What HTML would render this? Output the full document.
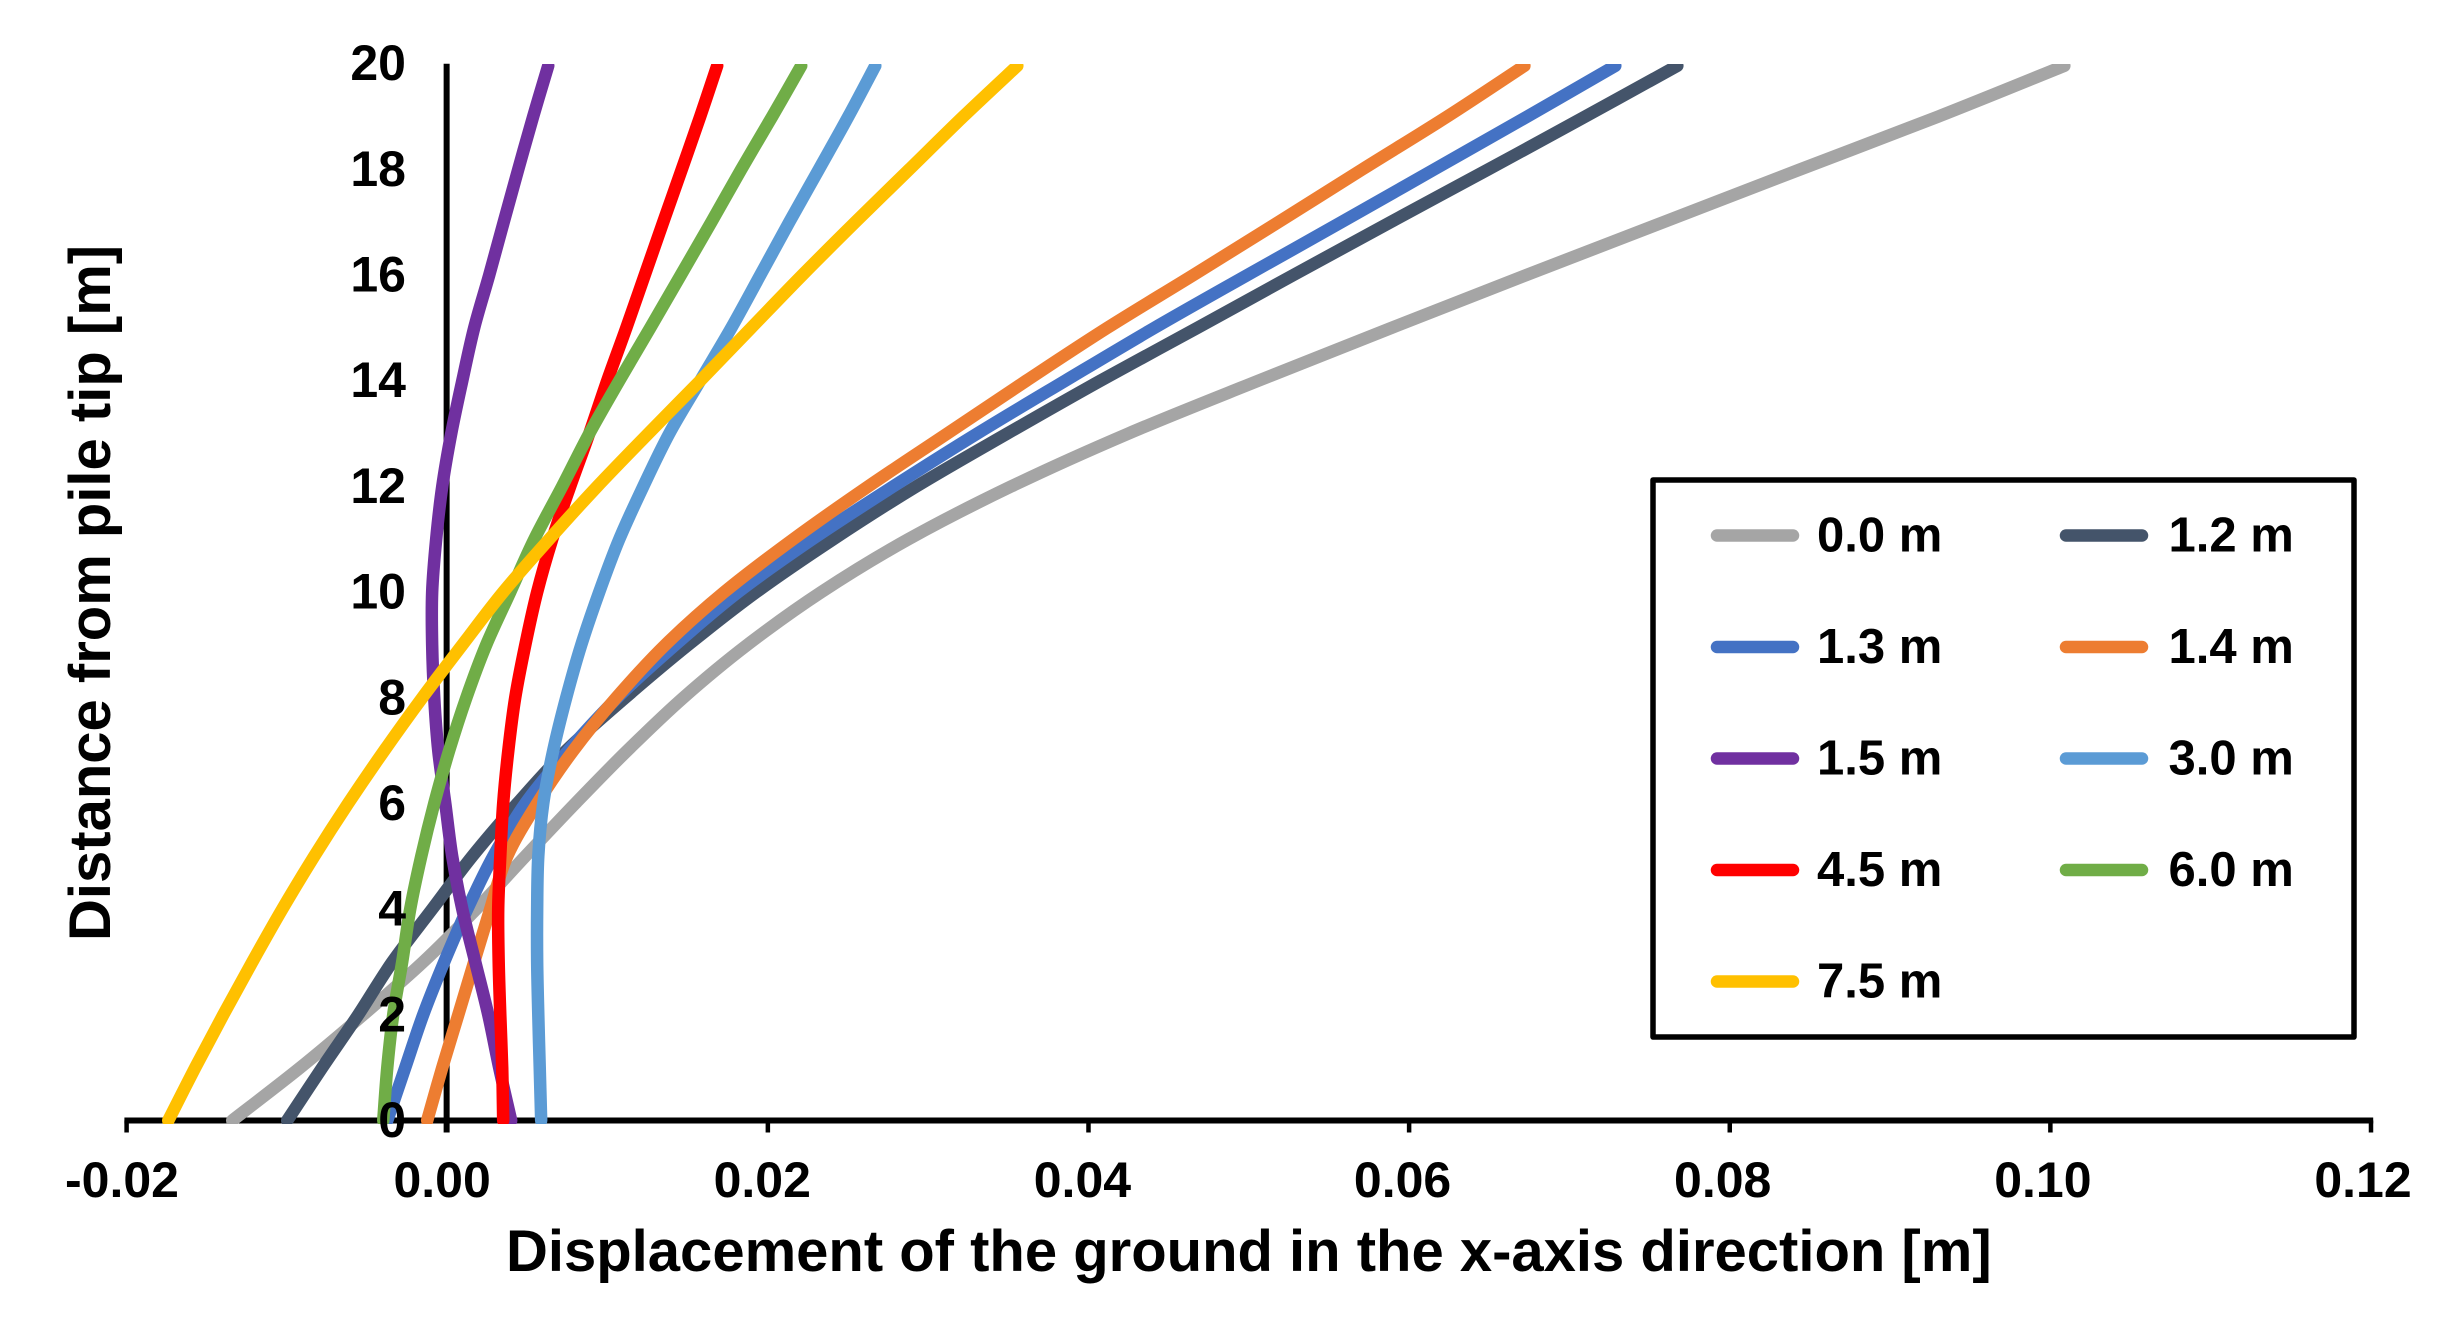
<!DOCTYPE html>
<html lang="en">
<head>
<meta charset="utf-8">
<title>Displacement of the ground in the x-axis direction</title>
<style>
html,body{margin:0;padding:0;background:#fff;}
svg{display:block;}
text{font-family:"Liberation Sans",Arial,sans-serif;font-weight:bold;fill:#000;}
</style>
</head>
<body>
<svg id="chart" xmlns="http://www.w3.org/2000/svg" width="2464" height="1324" viewBox="0 0 2464 1324">
  <defs>
    <clipPath id="plot-clip"><rect x="0" y="64" width="2464" height="1060"></rect></clipPath>
  </defs>
  <rect x="0" y="0" width="2464" height="1324" fill="#ffffff"></rect>
  <g id="axes"></g>
  <g id="series" clip-path="url(#plot-clip)"></g>
  <g id="ticks"></g>
  <text x="506" y="1271" font-size="58">Displacement of the ground in the x-axis direction [m]</text>
  <text transform="translate(110,941) rotate(-90)" font-size="58">Distance from pile tip [m]</text>
  <g id="legend"></g>
</svg>
<script>
// Chart data
const depths = [0,1,2,3,4,5,6,7,8,9,10,11,12,13,14,15,16,17,18,19,19.96];
const xTickValues = [-0.02,0,0.02,0.04,0.06,0.08,0.10,0.12];
const xTickLabels = ["-0.02","0.00","0.02","0.04","0.06","0.08","0.10","0.12"];
const yTickValues = [0,2,4,6,8,10,12,14,16,18,20];
const yTickLabels = ["0","2","4","6","8","10","12","14","16","18","20"];
const seriesNames = ["0.0 m","1.2 m","1.3 m","1.4 m","1.5 m","3.0 m","4.5 m","6.0 m","7.5 m"];
const seriesColors = ["#A5A5A5","#44546A","#4472C4","#ED7D31","#7030A0","#5B9BD5","#FF0000","#70AD47","#FFC000"];
const disp00 = [-0.01341,-0.00917,-0.00524,-0.00150,0.00181,0.00487,0.00799,0.01123,0.01472,0.01871,0.02333,0.02876,0.03518,0.04248,0.05059,0.05889,0.06731,0.07586,0.08440,0.09301,0.10087];
const disp12 = [-0.00998,-0.00780,-0.00555,-0.00343,-0.00094,0.00156,0.00437,0.00742,0.01110,0.01503,0.01928,0.02408,0.02926,0.03493,0.04074,0.04679,0.05278,0.05883,0.06494,0.07099,0.07673];
const disp13 = [-0.00374,-0.00262,-0.00150,-0.00019,0.00125,0.00287,0.00487,0.00755,0.01061,0.01422,0.01815,0.02277,0.02782,0.03306,0.03855,0.04411,0.04991,0.05577,0.06157,0.06737,0.07286];
const disp14 = [-0.00125,-0.00031,0.00069,0.00168,0.00268,0.00374,0.00561,0.00786,0.01054,0.01360,0.01728,0.02158,0.02626,0.03119,0.03612,0.04117,0.04654,0.05184,0.05708,0.06238,0.06719];
const disp15 = [0.00399,0.00324,0.00256,0.00175,0.00094,0.00031,-0.00012,-0.00056,-0.00081,-0.00094,-0.00094,-0.00069,-0.00031,0.00025,0.00094,0.00168,0.00262,0.00352,0.00443,0.00536,0.00630];
const disp30 = [0.00586,0.00577,0.00568,0.00561,0.00561,0.00568,0.00599,0.00661,0.00742,0.00836,0.00948,0.01073,0.01223,0.01385,0.01578,0.01772,0.01953,0.02133,0.02318,0.02502,0.02670];
const disp45 = [0.00349,0.00343,0.00331,0.00321,0.00318,0.00331,0.00349,0.00381,0.00424,0.00487,0.00561,0.00655,0.00767,0.00886,0.00998,0.01117,0.01232,0.01347,0.01463,0.01578,0.01684];
const disp60 = [-0.00399,-0.00374,-0.00337,-0.00281,-0.00231,-0.00162,-0.00081,0.00012,0.00119,0.00243,0.00393,0.00543,0.00717,0.00886,0.01073,0.01266,0.01457,0.01647,0.01834,0.02027,0.02208];
const disp75 = [-0.01740,-0.01572,-0.01397,-0.01216,-0.01029,-0.00830,-0.00618,-0.00393,-0.00156,0.00094,0.00349,0.00636,0.00936,0.01254,0.01578,0.01896,0.02215,0.02545,0.02882,0.03219,0.03556];
const seriesValues = [disp00,disp12,disp13,disp14,disp15,disp30,disp45,disp60,disp75];

// Axis functions
const NS = "http://www.w3.org/2000/svg";
function xScale(v){ return 126.6 + (v + 0.02) / 0.14 * 2244.4; }
function yScale(d){ return 1120.5 - d / 20 * 1056.8; }
function xLabelPos(v){ return 122 + (v + 0.02) / 0.14 * 2241; }

function make(tag, parent, attrs){
  const el = document.createElementNS(NS, tag);
  for (const k in attrs) el.setAttribute(k, attrs[k]);
  parent.appendChild(el);
  return el;
}

function smoothPath(points){
  let d = "M" + points[0][0].toFixed(2) + " " + points[0][1].toFixed(2);
  for (let i = 0; i < points.length - 1; i++){
    const p0 = points[Math.max(i - 1, 0)];
    const p1 = points[i];
    const p2 = points[i + 1];
    const p3 = points[Math.min(i + 2, points.length - 1)];
    const c1x = p1[0] + (p2[0] - p0[0]) / 6;
    const c1y = p1[1] + (p2[1] - p0[1]) / 6;
    const c2x = p2[0] - (p3[0] - p1[0]) / 6;
    const c2y = p2[1] - (p3[1] - p1[1]) / 6;
    d += "C" + c1x.toFixed(2) + " " + c1y.toFixed(2) + " " + c2x.toFixed(2) + " " + c2y.toFixed(2) + " " + p2[0].toFixed(2) + " " + p2[1].toFixed(2);
  }
  return d;
}

// Axes
const axes = document.getElementById("axes");
const yAxisLine = make("line", axes, {x1:xScale(0) - 0.6, x2:xScale(0) - 0.6, y1:yScale(20), y2:1132.5, stroke:"#000", "stroke-width":6});


const xAxisLine = make("line", axes, {x1:xScale(-0.02) - 2.2, x2:xScale(0.12) + 2.2, y1:yScale(0), y2:yScale(0), stroke:"#000", "stroke-width":6});


xTickValues.forEach(function(v){
  const tick = make("line", axes, {x1:xScale(v), x2:xScale(v), y1:yScale(0), y2:1132.5, stroke:"#000", "stroke-width":4.5});
  
  
});

// Series
const seriesGroup = document.getElementById("series");
seriesValues.forEach(function(vals, s){
  const pts = vals.map(function(v, i){ return [xScale(v), yScale(depths[i])]; });
  const path = make("path", seriesGroup, {d:smoothPath(pts), fill:"none", stroke:seriesColors[s], "stroke-width":12.5, "stroke-linecap":"round", "stroke-linejoin":"round"});
  
  
});

// Tick labels
const tickGroup = document.getElementById("ticks");
xTickValues.forEach(function(v, i){
  const t = make("text", tickGroup, {x:xLabelPos(v), y:1197, "font-size":50, "text-anchor":"middle"});
  t.textContent = xTickLabels[i];
  
  
});
yTickValues.forEach(function(d, i){
  const t = make("text", tickGroup, {x:406, y:yScale(d) + 16.5, "font-size":50, "text-anchor":"end"});
  t.textContent = yTickLabels[i];
  
  
});

// Legend
const legend = document.getElementById("legend");
const legendBox = make("rect", legend, {x:1653, y:480, width:701, height:557, fill:"#fff", stroke:"#000", "stroke-width":5.5, "stroke-linejoin":"round"});


seriesNames.forEach(function(name, i){
  const col = i % 2;
  const row = Math.floor(i / 2);
  const rowY = 535.5 + row * 111.5;
  const lineX = 1717 + col * 350;
  const swatch = make("line", legend, {x1:lineX - col, x2:lineX - col + 76, y1:rowY, y2:rowY, stroke:seriesColors[i], "stroke-width":12.5, "stroke-linecap":"round"});
  
  
  const label = make("text", legend, {x:lineX + 100 + col * 1.5, y:rowY + 16, "font-size":49});
  label.textContent = name;
  
  
});
</script>
</body>
</html>
